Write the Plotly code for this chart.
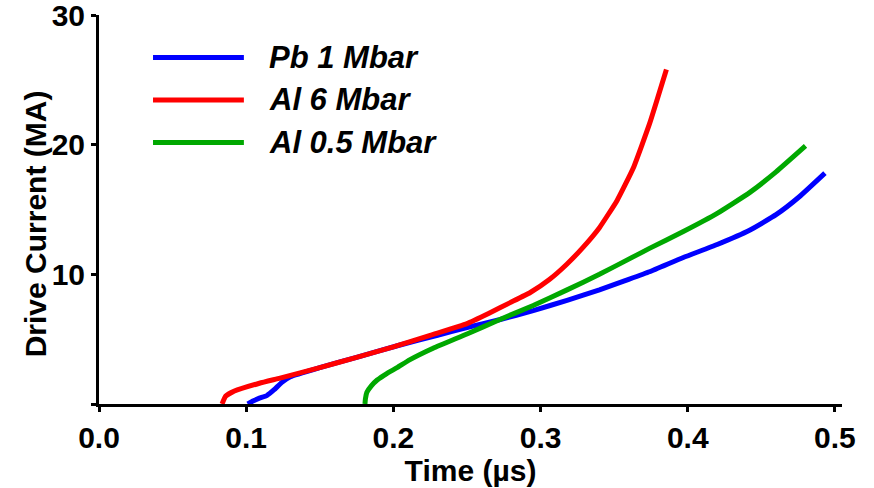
import plotly.graph_objects as go

# Pb 1 Mbar (blue)
pb1_t = [0.101, 0.105, 0.109, 0.114, 0.119, 0.124, 0.130, 0.150, 0.175, 0.2045, 0.230, 0.250, 0.272, 0.295, 0.318, 0.340, 0.357, 0.374, 0.397, 0.420, 0.442, 0.460, 0.476, 0.4932]
pb1_i = [0.0, 0.25, 0.45, 0.65, 1.1, 1.65, 2.1, 2.8, 3.6, 4.55, 5.3, 5.9, 6.5, 7.2, 8.0, 8.8, 9.5, 10.2, 11.3, 12.3, 13.4, 14.6, 16.0, 17.8]

# Al 6 Mbar (red)
al6_t = [0.0836, 0.086, 0.092, 0.109, 0.123, 0.150, 0.175, 0.200, 0.225, 0.250, 0.265, 0.279, 0.293, 0.306, 0.318, 0.329, 0.340, 0.352, 0.363, 0.374, 0.3855]
al6_i = [0.0, 0.6, 1.0, 1.6, 2.0, 2.8, 3.6, 4.4, 5.3, 6.2, 7.0, 7.8, 8.6, 9.6, 10.8, 12.1, 13.6, 15.7, 18.2, 21.6, 25.8]

# Al 0.5 Mbar (green)
al05_t = [0.1807, 0.181, 0.182, 0.185, 0.189, 0.1955, 0.2025, 0.211, 0.227, 0.250, 0.272, 0.295, 0.318, 0.340, 0.357, 0.374, 0.397, 0.420, 0.442, 0.460, 0.480]
al05_i = [0.0, 0.4, 0.9, 1.4, 1.85, 2.35, 2.8, 3.4, 4.3, 5.4, 6.5, 7.6, 8.8, 10.0, 11.0, 12.0, 13.3, 14.7, 16.3, 17.9, 19.9]

series_names = ["Pb 1 Mbar", "Al 6 Mbar", "Al 0.5 Mbar"]
series_colors = ["#0000FF", "#FF0000", "#00A800"]

x_ticks = [0.0, 0.1, 0.2, 0.3, 0.4, 0.5]
x_ticktext = ["0.0", "0.1", "0.2", "0.3", "0.4", "0.5"]
y_ticks = [0, 10, 20, 30]
y_ticktext = ["", "10", "20", "30"]

FONT = "Liberation Sans, Arial, sans-serif"

fig = go.Figure()
for (t, i), name, color in zip([(pb1_t, pb1_i), (al6_t, al6_i), (al05_t, al05_i)], series_names, series_colors):
    fig.add_trace(go.Scatter(x=t, y=i, mode="lines", name=name,
                             line=dict(color=color, width=5, shape="spline", smoothing=0.4),
                             showlegend=False))

# manual legend (long line samples)
legend_rows = [0.891, 0.7815, 0.672]
for name, color, yy in zip(series_names, series_colors, legend_rows):
    fig.add_shape(type="line", xref="paper", yref="paper", x0=0.0727, x1=0.195, y0=yy, y1=yy,
                  line=dict(color=color, width=5))
    fig.add_annotation(xref="paper", yref="paper", x=0.2255, y=yy, text="<b><i>%s</i></b>" % name,
                       showarrow=False, xanchor="left", yanchor="middle",
                       font=dict(family=FONT, size=31, color="black"))

# y-axis title as a rotated annotation
fig.add_annotation(xref="paper", yref="paper", x=-0.0861, y=0.462, text="<b>Drive Current (MA)</b>",
                   textangle=-90, showarrow=False, xanchor="center", yanchor="middle",
                   font=dict(family=FONT, size=30, color="black"))

tickfont = dict(family=FONT, size=30, color="black", weight="bold")
titlefont = dict(family=FONT, size=30, color="black", weight="bold")

fig.update_layout(
    width=874, height=488,
    margin=dict(l=99, r=32, t=15, b=84),
    paper_bgcolor="white", plot_bgcolor="white",
    font=dict(family=FONT, color="black"),
    xaxis=dict(range=[0, 0.5048], tickvals=x_ticks, ticktext=x_ticktext,
               showgrid=False, zeroline=False, showline=True, linecolor="black", linewidth=3,
               ticks="outside", ticklen=5, tickwidth=2.5, tickcolor="black",
               tickfont=tickfont, ticklabeloverflow="allow",
               title=dict(text="Time (µs)", font=titlefont, standoff=0),
               automargin=False),
    yaxis=dict(range=[0, 30], tickvals=y_ticks, ticktext=y_ticktext,
               showgrid=False, zeroline=False, showline=True, linecolor="black", linewidth=3,
               ticks="outside", ticklen=5, tickwidth=2.5, tickcolor="black",
               tickfont=tickfont, ticklabeloverflow="allow",
               automargin=False),
)

fig.write_html("out.html")
